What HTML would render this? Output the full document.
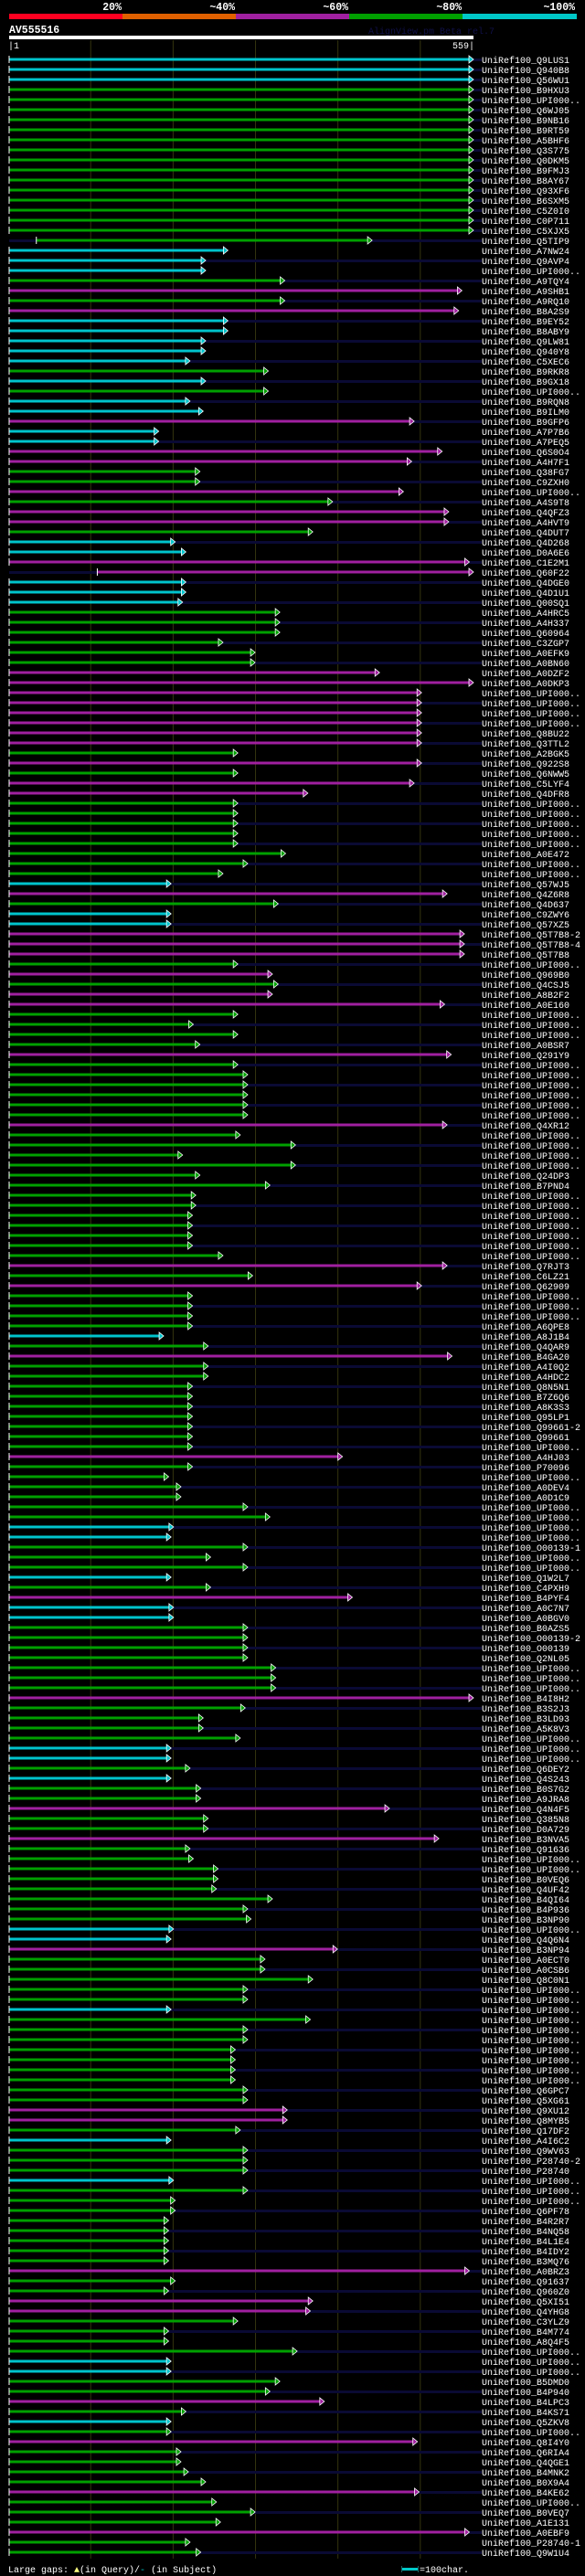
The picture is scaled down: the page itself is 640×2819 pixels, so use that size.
<!DOCTYPE html>
<html><head><meta charset="utf-8"><title>AlignView AV555516</title>
<style>
html,body{margin:0;padding:0;background:#000;}
body{width:640px;height:2819px;overflow:hidden;}
svg{display:block;}
text{font-family:"Liberation Mono",monospace;}
</style></head>
<body>
<svg id="chart" width="640" height="2819" xmlns="http://www.w3.org/2000/svg">
  <rect x="0" y="0" width="640" height="2819" fill="#000"/>
  <g>
    <text x="133" y="11" fill="#fff" font-size="11.5" font-weight="bold" text-anchor="end">20%</text>
    <text x="257" y="11" fill="#fff" font-size="11.5" font-weight="bold" text-anchor="end">~40%</text>
    <text x="381" y="11" fill="#fff" font-size="11.5" font-weight="bold" text-anchor="end">~60%</text>
    <text x="505" y="11" fill="#fff" font-size="11.5" font-weight="bold" text-anchor="end">~80%</text>
    <text x="629" y="11" fill="#fff" font-size="11.5" font-weight="bold" text-anchor="end">~100%</text>
    <rect x="10" y="15" width="124" height="6" fill="#ff0020"/>
    <rect x="134" y="15" width="124" height="6" fill="#e06000"/>
    <rect x="258" y="15" width="124" height="6" fill="#a020a0"/>
    <rect x="382" y="15" width="124" height="6" fill="#00a000"/>
    <rect x="506" y="15" width="125" height="6" fill="#00c8c8"/>
  </g>
  <text x="10" y="36" fill="#fff" font-size="11.5" font-weight="bold">AV555516</text>
  <text x="403" y="37" fill="#101048" font-size="10">AlignView.pm Beta rel.7</text>
  <rect x="10" y="39" width="508" height="4" fill="#fff"/>
  <text x="9" y="53" fill="#fff" font-size="10">|1</text>
  <text x="519" y="53" fill="#fff" font-size="10" text-anchor="end">559|</text>
  <g id="grid"></g>
  <g id="rows"></g>
  <g>
    <text x="9" y="2815" fill="#fff" font-size="10">Large gaps: <tspan fill="#ffff80">▲</tspan>(in Query)/<tspan fill="#00c8c8">-</tspan> (in Subject)</text>
    <rect x="440" y="2810" width="17" height="3" fill="#00c8c8"/>
    <rect x="439" y="2808" width="1" height="7" fill="#206060"/>
    <rect x="457" y="2808" width="1" height="7" fill="#206060"/>
    <text x="459" y="2815" fill="#fff" font-size="10">=100char.</text>
  </g>
</svg>
<script>
const queryLength = 559;
const gridTicks = [100, 200, 300, 400, 500];
const labels = ["Q9LUS1","Q940B8","Q56WU1","B9HXU3","UPI000..","Q6WJ05","B9NB16","B9RT59","A5BHF6","Q3S775","Q0DKM5","B9FMJ3","B8AY67","Q93XF6","B6SXM5","C5Z0I0","C0P711","C5XJX5","Q5TIP9","A7NW24","Q9AVP4","UPI000..","A9TQY4","A9SHB1","A9RQ10","B8A2S9","B9EY52","B8ABY9","Q9LW81","Q940Y8","C5XEC6","B9RKR8","B9GX18","UPI000..","B9RQN8","B9ILM0","B9GFP6","A7P7B6","A7PEQ5","Q6S0O4","A4H7F1","Q38FG7","C9ZXH0","UPI000..","A4S9T8","Q4QFZ3","A4HVT9","Q4DUT7","Q4D268","D0A6E6","C1E2M1","Q60F22","Q4DGE0","Q4D1U1","Q00SQ1","A4HRC5","A4H337","Q60964","C3ZGP7","A0EFK9","A0BN60","A0DZF2","A0DKP3","UPI000..","UPI000..","UPI000..","UPI000..","Q8BU22","Q3TTL2","A2BGK5","Q922S8","Q6NWW5","C5LYF4","Q4DFR8","UPI000..","UPI000..","UPI000..","UPI000..","UPI000..","A0E472","UPI000..","UPI000..","Q57WJ5","Q4Z6R8","Q4D637","C9ZWY6","Q57XZ5","Q5T7B8-2","Q5T7B8-4","Q5T7B8","UPI000..","Q969B0","Q4CSJ5","A8B2F2","A0E160","UPI000..","UPI000..","UPI000..","A0BSR7","Q291Y9","UPI000..","UPI000..","UPI000..","UPI000..","UPI000..","UPI000..","Q4XR12","UPI000..","UPI000..","UPI000..","UPI000..","Q24DP3","B7PND4","UPI000..","UPI000..","UPI000..","UPI000..","UPI000..","UPI000..","UPI000..","Q7RJT3","C6LZ21","Q62909","UPI000..","UPI000..","UPI000..","A6QPE8","A8J1B4","Q4QAR9","B4GA20","A4I0Q2","A4HDC2","Q8N5N1","B7Z6Q6","A8K3S3","Q95LP1","Q99661-2","Q99661","UPI000..","A4HJ03","P70096","UPI000..","A0DEV4","A0D1C9","UPI000..","UPI000..","UPI000..","UPI000..","O00139-1","UPI000..","UPI000..","Q1W2L7","C4PXH9","B4PYF4","A0C7N7","A0BGV0","B0AZS5","O00139-2","O00139","Q2NL05","UPI000..","UPI000..","UPI000..","B4I8H2","B3S2J3","B3LD93","A5K8V3","UPI000..","UPI000..","UPI000..","Q6DEY2","Q4S243","B0S7G2","A9JRA8","Q4N4F5","Q385N8","D0A729","B3NVA5","Q91636","UPI000..","UPI000..","B0VEQ6","Q4UF42","B4QI64","B4P936","B3NP90","UPI000..","Q4Q6N4","B3NP94","A0ECT0","A0CSB6","Q8C0N1","UPI000..","UPI000..","UPI000..","UPI000..","UPI000..","UPI000..","UPI000..","UPI000..","UPI000..","UPI000..","Q6GPC7","Q5XG61","Q9XU12","Q8MYB5","Q17DF2","A4I6C2","Q9WV63","P28740-2","P28740","UPI000..","UPI000..","UPI000..","Q6PF78","B4R2R7","B4NQ58","B4L1E4","B4IDY2","B3MQ76","A0BRZ3","Q91637","Q960Z0","Q5XI51","Q4YHG8","C3YLZ9","B4M774","A8Q4F5","UPI000..","UPI000..","UPI000..","B5DMD0","B4P940","B4LPC3","B4KS71","Q5ZKV8","UPI000..","Q8I4Y0","Q6RIA4","Q4QGE1","B4MNK2","B0X9A4","B4KE62","UPI000..","B0VEQ7","A1E131","A0EBF9","P28740-1","Q9W1U4"];
const identityClass = "cccggggggg" + "gggggggggc" + "ccgmgmcccc" + "cgcgccmccm" + "mggmgmmgcc" +
  "mmcccggggg" + "gmmmmmmmmg" + "mgmmgggggg" + "ggcmgccmmm" + "gmgmmggggm" +
  "ggggggmggg" + "gggggggggg" + "mgmggggcgm" + "gggggggggm" + "ggggggccgg" +
  "gcgmccgggg" + "gggmggggcc" + "gcggmggmgg" + "ggggggccmg" + "ggggcggggg" +
  "ggggmmgcgg" + "gcgggggggg" + "mggmmggggc" + "cggmgcgmgg" + "ggmgggmgg";
const hitEnds = [
  559,559,559,559,559,559,559,559,559,559,
  559,559,559,559,559,559,559,559,436,261,
  234,234,330,545,330,541,261,261,234,234,
  215,310,234,310,215,231,487,177,177,521,
  484,227,227,474,388,529,529,364,197,210,
  554,559,210,210,206,324,324,324,255,294,
  294,445,559,496,496,496,496,496,496,273,
  496,273,487,358,273,273,273,273,273,331,
  285,255,192,527,322,192,192,548,548,548,
  273,315,322,315,524,273,219,273,227,532,
  273,285,285,285,285,285,527,276,343,206,
  343,227,312,222,222,218,218,218,218,255,
  527,291,496,218,218,218,218,183,237,533,
  237,237,218,218,218,218,218,218,218,400,
  218,189,204,204,285,312,195,192,285,240,
  285,192,240,412,195,195,285,285,285,285,
  319,319,319,559,282,231,231,276,192,192,
  215,192,228,228,457,237,237,517,215,219,
  249,249,247,315,285,289,195,192,394,306,
  306,364,285,285,192,361,285,285,270,270,
  270,270,285,285,333,333,276,192,285,285,
  285,195,285,197,197,189,189,189,189,189,
  554,197,189,364,361,273,189,189,345,192,
  192,324,312,378,210,192,192,491,204,204,
  213,234,493,247,294,252,554,215,228];
const hitStarts = {19: 34, 52: 108};
const subjectLonger = (
  "1111111111" + "1111111110" + "1010101010" + "1010101010" + "1010101010" +
  "1010101010" + "1000101010" + "1010101010" + "1010101010" + "1010101010" +
  "1010101010" + "1010101010" + "1010101010" + "1010101010" + "1010101010" +
  "1010101010" + "1010101010" + "1010101010" + "1010101010" + "1010101010" +
  "1010101010" + "1010101010" + "1010101010" + "1010101010" + "101010101").split("").map(Number);

const NS = "http://www.w3.org/2000/svg";
const X0 = 10, X1 = 513, LABEL_X = 527, ROW0 = 65, ROW_H = 11;
const colorMap = {c: "#00c4cc", g: "#00a000", m: "#a020a0"};
function xScale(r) { return X0 + (r - 1) * (X1 - X0) / (queryLength - 1); }
function yRow(i) { return ROW0 + i * ROW_H; }
function mk(tag, attrs, parent) {
  const e = document.createElementNS(NS, tag);
  for (const k in attrs) e.setAttribute(k, attrs[k]);
  parent.appendChild(e);
  return e;
}
const grid = document.getElementById("grid");
gridTicks.forEach(t => {
  const l = mk("rect", {x: xScale(t) - 0.5, y: 44, width: 1, height: 2756, fill: "#34340e"}, grid);
  
  
});
const rows = document.getElementById("rows");
labels.forEach((lab, i) => {
  const y = yRow(i);
  const g = mk("g", {}, rows);
  
  
  const col = colorMap[identityClass[i]] || "#00a000";
  const start = hitStarts[i + 1] || 1;
  const xs = xScale(start), xe = xScale(hitEnds[i]);
  if (start > 1) mk("rect", {x: X0, y: y - 1, width: xs - X0, height: 3, fill: "#0a0a34"}, g);
  if (subjectLonger[i]) mk("rect", {x: xe, y: y - 1, width: LABEL_X - xe, height: 3, fill: "#0a0a34"}, g);
  const bar = mk("rect", {x: xs, y: y - 1.5, width: xe - xs, height: 3, fill: col}, g);
  
  
  mk("rect", {x: xs - 0.5, y: y - 4, width: 1, height: 8, fill: "#fff"}, g);
  const arr = mk("polygon", {points: `${xe},${y - 4} ${xe},${y + 4} ${xe + 5},${y}`, fill: col, stroke: "#fff", "stroke-width": 0.8}, g);
  
  
  const t = mk("text", {x: LABEL_X, y: y + 4, fill: "#fff", "font-size": 10}, g);
  t.textContent = "UniRef100_" + lab;
  
  
});
</script>
</body></html>
